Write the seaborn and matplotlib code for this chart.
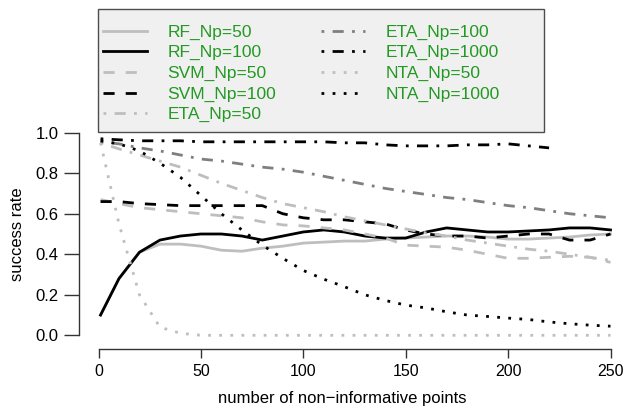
import numpy as np
import pandas as pd
import seaborn as sns
import matplotlib.pyplot as plt
from matplotlib.patches import Rectangle

# x positions (number of non-informative points)
n_points = [1, 10, 20, 30, 40, 50, 60, 70, 80, 90, 100, 110, 120, 130,
            140, 150, 160, 170, 180, 190, 200, 210, 220, 230, 240, 250]

rf_50 = [0.10, 0.28, 0.41, 0.45, 0.45, 0.44, 0.42, 0.415, 0.43, 0.44, 0.455, 0.46, 0.465,
         0.465, 0.475, 0.48, 0.485, 0.49, 0.49, 0.485, 0.475, 0.475, 0.48, 0.485, 0.495, 0.50]
rf_100 = [0.10, 0.28, 0.41, 0.47, 0.49, 0.50, 0.50, 0.49, 0.47, 0.49, 0.51, 0.52, 0.51,
          0.49, 0.48, 0.48, 0.51, 0.53, 0.52, 0.51, 0.51, 0.515, 0.52, 0.53, 0.53, 0.52]
svm_50 = [0.67, 0.65, 0.63, 0.62, 0.61, 0.60, 0.59, 0.58, 0.56, 0.545, 0.54, 0.53, 0.52,
          0.50, 0.48, 0.445, 0.44, 0.435, 0.42, 0.40, 0.38, 0.38, 0.385, 0.39, 0.385, 0.36]
svm_100 = [0.66, 0.66, 0.65, 0.645, 0.64, 0.64, 0.64, 0.64, 0.64, 0.60, 0.58, 0.57, 0.57,
           0.56, 0.55, 0.52, 0.50, 0.49, 0.49, 0.48, 0.49, 0.50, 0.50, 0.47, 0.47, 0.50]
eta_50 = [0.95, 0.92, 0.89, 0.86, 0.83, 0.79, 0.75, 0.715, 0.68, 0.65, 0.63, 0.61, 0.585,
          0.565, 0.545, 0.525, 0.505, 0.49, 0.47, 0.455, 0.44, 0.425, 0.415, 0.40, 0.385, 0.37]
eta_100 = [0.955, 0.945, 0.925, 0.91, 0.89, 0.87, 0.86, 0.845, 0.83, 0.82, 0.805, 0.785, 0.765,
           0.745, 0.725, 0.71, 0.695, 0.68, 0.67, 0.655, 0.64, 0.63, 0.615, 0.60, 0.59, 0.58]
eta_1000 = [0.97, 0.965, 0.96, 0.96, 0.96, 0.955, 0.955, 0.955, 0.955, 0.955, 0.955, 0.955, 0.95,
            0.95, 0.94, 0.935, 0.935, 0.935, 0.94, 0.94, 0.945, 0.935, 0.925, np.nan, np.nan, np.nan]
nta_50 = [0.95, 0.55, 0.20, 0.04, 0.01, 0.0, 0.0, 0.0, 0.0, 0.0, 0.0, 0.0, 0.0,
          0.0, 0.0, 0.0, 0.0, 0.0, 0.0, 0.0, 0.0, 0.0, 0.0, 0.0, 0.0, 0.0]
nta_1000 = [0.96, 0.945, 0.91, 0.85, 0.78, 0.69, 0.60, 0.52, 0.445, 0.38, 0.32, 0.277, 0.24,
            0.20, 0.172, 0.149, 0.135, 0.116, 0.10, 0.093, 0.085, 0.078, 0.066, 0.057, 0.05, 0.045]

names = ["RF_Np=50", "RF_Np=100", "SVM_Np=50", "SVM_Np=100", "ETA_Np=50",
         "ETA_Np=100", "ETA_Np=1000", "NTA_Np=50", "NTA_Np=1000"]
series = [rf_50, rf_100, svm_50, svm_100, eta_50, eta_100, eta_1000, nta_50, nta_1000]

light, mid = "#BEBEBE", "#7F7F7F"
colors = [light, "black", light, "black", light, mid, "black", light, "black"]
solid, dashed, dotted, dotdash = "", (4, 4), (1, 3), (1, 3, 4, 3)
styles = [solid, solid, dashed, dashed, dotdash, dotdash, dotdash, dotted, dotted]

df = pd.concat([pd.DataFrame({"x": n_points, "rate": s, "series": n})
                for n, s in zip(names, series)], ignore_index=True)

plt.rcParams["font.family"] = ["Liberation Sans", "DejaVu Sans"]

fig = plt.figure(figsize=(6.24, 4.12), dpi=100)
W, H = 624, 412
ax = fig.add_axes([79 / W, 1 - 349 / H, 545 / W, 229 / H])

sns.lineplot(data=df, x="x", y="rate", hue="series", style="series",
             hue_order=names, style_order=names,
             palette=dict(zip(names, colors)), dashes=dict(zip(names, styles)),
             linewidth=2.0, estimator=None, sort=False, legend=False, ax=ax)

# x: 0 at 98.5px, 250 at 610.5px; y: 0 at 335.3px, 1 at 132.7px
x0, x250 = 98.5, 610.5
sx = (x250 - x0) / 250
sy = (335.3 - 132.7)
ax.set_xlim((79 - x0) / sx, (624 - x0) / sx)
ax.set_ylim((335.3 - 349) / sy, (335.3 - 120) / sy)

for sp in ["top", "right"]:
    ax.spines[sp].set_visible(False)
ax.spines["left"].set_bounds(0, 1)
ax.spines["bottom"].set_bounds(0, 250)
for sp in ["left", "bottom"]:
    ax.spines[sp].set_color("#333333")
    ax.spines[sp].set_linewidth(1.0)

ax.set_xticks([0, 50, 100, 150, 200, 250])
ax.set_yticks([0.0, 0.2, 0.4, 0.6, 0.8, 1.0])
ax.set_yticklabels(["0.0", "0.2", "0.4", "0.6", "0.8", "1.0"])
ax.tick_params(axis="y", length=10.5, width=1.0, color="#333333", pad=4, labelsize=12)
ax.tick_params(axis="x", length=6.5, width=1.0, color="#333333", pad=4, labelsize=11.5)

ax.set_xlabel("number of non\u2212informative points", fontsize=12)
ax.set_ylabel("success rate", fontsize=12)
ax.xaxis.label.set_va("center")
ax.yaxis.label.set_va("center")
ax.xaxis.set_label_coords((342 - 79) / 545, (349 - 398) / 229)
ax.yaxis.set_label_coords((18 - 79) / 545, 0.5)

# legend box
fig.patches.append(Rectangle((98 / W, 1 - 132 / H), 446 / W, 123 / H,
                             transform=fig.transFigure, facecolor="#F0F0F0",
                             edgecolor="#4D4D4D", linewidth=1.0, zorder=1))
fig.legend(handles=list(ax.get_lines()), labels=names, ncol=2,
           loc="upper left", bbox_to_anchor=(103 / W, 1 - 24.5 / H),
           frameon=False, borderpad=0, borderaxespad=0, fontsize=12.5,
           handlelength=2.55, handletextpad=1.15, columnspacing=2.6,
           labelspacing=0.31, labelcolor="#229922")

fig.savefig("out.png", dpi=100)
